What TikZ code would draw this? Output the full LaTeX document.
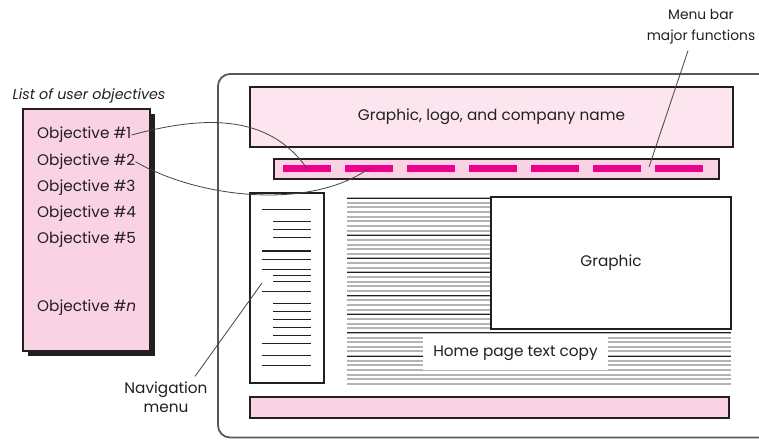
\documentclass[tikz,border=0pt]{standalone}
\usepackage{fontspec}
\setmainfont{Poppins}
\usetikzlibrary{shadows}
\definecolor{ink}{HTML}{231F20}
\definecolor{pinkfill}{HTML}{F9D2E4}
\definecolor{palepink}{HTML}{FDE5EF}
\definecolor{magentabar}{HTML}{EC008C}
\definecolor{textgray}{HTML}{B4B4B4}

\begin{document}
\begin{tikzpicture}[x=1pt, y=1pt, font=\fontsize{15.3}{18}\selectfont,
  box/.style={draw=ink, line width=1.2pt, inner sep=0pt, text=ink},
  label/.style={text=ink, inner sep=0pt},
  dashbar/.style={fill=magentabar, minimum width=48pt, minimum height=7pt, inner sep=0pt},
  pointer/.style={draw=ink!85, line width=0.8pt}]
\useasboundingbox (0,0) rectangle (759,440);
\draw[ink!75, line width=1.8pt, rounded corners=12pt] (759,366) -- (218,366) -- (218,2.5) -- (759,2.5);

\node[label, font=\itshape\fontsize{14.3}{16}\selectfont] (objlabel) at (89,344) {List of user objectives};
\node[box, fill=pinkfill, minimum width=127pt, minimum height=242pt,
  drop shadow={shadow xshift=5pt, shadow yshift=-5pt, fill=ink, opacity=1}] (objlist) at (86.5,210) {};
\node[label, anchor=west] (obj1) at (37,305) {Objective \#1};
\node[label, anchor=west] (obj2) at (37,278.3) {Objective \#2};
\node[label, anchor=west] (obj3) at (37,252.7) {Objective \#3};
\node[label, anchor=west] (obj4) at (37,226) {Objective \#4};
\node[label, anchor=west] (obj5) at (37,200.7) {Objective \#5};
\node[label, anchor=west] (objn) at (37,132) {Objective \#\textit{n}};

\node[box, fill=palepink, minimum width=483pt, minimum height=60pt] (header) at (491.5,323) {Graphic, logo, and company name};
\node[box, fill=pinkfill, minimum width=445pt, minimum height=20pt] (menubar) at (496.5,271) {};
\foreach \i in {1,...,7}
  \node[dashbar] (m\i) at ({245+62*\i},271.5) {};

\node[box, fill=white, minimum width=74pt, minimum height=190pt] (navmenu) at (287,152) {};
\foreach \y/\x in {230.7/262, 218.3/273, 210.7/273, 202.7/273, 189/262, 180.7/262, 170.7/262, 164.3/273, 158.3/273,
  148.3/262, 136.7/273, 128.7/273, 120.7/273, 112.7/273, 104.7/273, 96.7/262, 84.3/262, 74.7/262}
  \draw[ink, line width=1.1pt] (\x,\y) -- (311,\y);

\foreach \k in {0,...,40} {
  \pgfmathsetmacro\ty{242-4.65*\k}
  \pgfmathsetmacro\tx{ifthenelse(\k<29,490,731)}
  \draw[textgray, line width=2pt] (347,\ty) -- (\tx,\ty);
}
\foreach \k in {0,8,13,16,21,25,29,34} {
  \pgfmathsetmacro\ty{242-4.65*\k}
  \pgfmathsetmacro\tx{ifthenelse(\k<29,490,731)}
  \draw[ink, line width=1pt] (347,\ty) -- (\tx,\ty);
}
\node[box, fill=white, minimum width=240pt, minimum height=132pt] (graphic) at (611,177) {Graphic};
\node[label, fill=white, minimum width=185pt, minimum height=33pt] (hometext) at (515.5,86.5) {Home page text copy};
\node[box, fill=pinkfill, minimum width=479pt, minimum height=21pt] (footer) at (489.5,32.5) {};

\node[label, align=center, font=\fontsize{13.8}{21}\selectfont] (menulabel) at (701,413) {Menu bar\\major functions};
\node[label, align=center, font=\fontsize{15.3}{19}\selectfont] (navlabel) at (166,43) {Navigation\\menu};
\coordinate (menutip) at (649,273);
\coordinate (navtip) at (262,157);

\draw[pointer] (obj1.east) to[out=15, in=125] (m1.center);
\draw[pointer] (obj2.east) to[out=-30, in=-145, looseness=0.8] (m2.center);
\draw[pointer] ([shift={(-13pt,-6pt)}]menulabel.south) -- (menutip);
\draw[pointer] ([shift={(29pt,5pt)}]navlabel.north) -- (navtip);
\end{tikzpicture}
\end{document}
